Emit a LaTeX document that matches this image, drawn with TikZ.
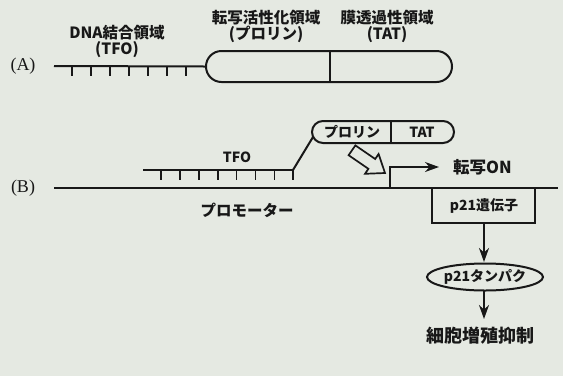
\documentclass[tikz,border=0pt]{standalone}
\usepackage{fontspec}
\setmainfont{Liberation Serif}
\newfontfamily\jp{Noto Sans CJK JP}
\usetikzlibrary{arrows.meta,shapes.geometric}
\definecolor{bg}{RGB}{229,233,226}
\definecolor{ink}{RGB}{24,24,24}
\begin{document}
\begin{tikzpicture}[x=1pt,y=-1pt,
  ln/.style={line width=2pt, draw=ink},
  tk/.style={line width=1.7pt, draw=ink},
  jl/.style={font=\jp\bfseries\fontsize{15.5}{16}\selectfont, text=ink, inner sep=0pt, align=center},
  jsm/.style={font=\jp\bfseries\fontsize{14}{15}\selectfont, text=ink, inner sep=0pt},
  jbig/.style={font=\jp\bfseries\fontsize{18}{19}\selectfont, text=ink, inner sep=0pt},
  serif/.style={font=\fontsize{18}{20}\selectfont, text=ink, inner sep=0pt},
  tip/.style={-{Stealth[length=14pt,width=10pt]}}
]
\fill[bg] (0,0) rectangle (563,376);
\useasboundingbox (0,0) rectangle (563,376);

% ---------- (A) ----------
\node[serif] (labA) at (23,66) {(A)};
\node[ln, draw, rounded corners=15.5pt, minimum width=246pt, minimum height=31pt, inner sep=0pt] (boxA) at (329,66.5) {};
\coordinate (divAt) at (330,51);
\coordinate (divAb) at (330,82);
\draw[ln] (divAt) -- (divAb);
\coordinate (a0) at (54,66);
\draw[ln] (a0) -- (boxA.west);
\foreach \x in {72,91,...,186} \draw[tk] (\x,66) -- (\x,76);
\node[jl] (dnalab) at (117,41.5) {DNA結合領域\\(TFO)};
\node[jl] (prolab) at (266,26) {転写活性化領域\\(プロリン)};
\node[jl] (tatlab) at (387,26) {膜透過性領域\\(TAT)};

% ---------- (B) ----------
\node[serif] (labB) at (23,188) {(B)};
\coordinate (b0) at (54,188);
\coordinate (b1) at (558,188);
\draw[ln] (b0) -- (b1);
% TFO strand
\coordinate (t0) at (143,170);
\coordinate (t1) at (293,170);
\draw[ln] (t0) -- (t1);
\foreach \i in {0,...,7} \draw[tk] (161+18.9*\i,170) -- (161+18.9*\i,180);
\node[jsm] (tfolab) at (237,157) {TFO};
% small protein box
\node[ln, draw, rounded corners=11pt, minimum width=142pt, minimum height=22pt, inner sep=0pt] (boxB) at (383,132) {};
\coordinate (divBt) at (391,121);
\coordinate (divBb) at (391,143);
\draw[ln] (divBt) -- (divBb);
\coordinate (bjoin) at (313,137);
\draw[ln] (t1) -- (bjoin);
\node[jsm] (prolinB) at (352,132) {プロリン};
\node[jsm] (tatB) at (422,132) {TAT};
% hollow arrow
\draw[line width=1.7pt, draw=ink, fill=bg, line join=miter]
  (348.6,155.2) -- (368.4,168.8) -- (365.0,173.8) -- (385,173)
  -- (378.6,154.0) -- (375.2,159.0) -- (355.4,145.4) -- cycle;
% transcription start
\coordinate (tss) at (390,188);
\coordinate (tsstop) at (390,167);
\coordinate (tssend) at (439,167);
\draw[ln, tip] (tss) -- (tsstop) -- (tssend);
\node[anchor=west, font=\jp\bfseries\fontsize{16.5}{18}\selectfont, text=ink, inner sep=0pt] (on) at (453,167) {転写ON};
\node[jl] (promo) at (247,210) {プロモーター};
% gene box
\node[ln, draw, minimum width=103pt, minimum height=35pt, inner sep=0pt] (gene) at (483.5,205.5) {};
\node[jsm] (genelab) at (484,205.5) {p21遺伝子};
% protein
\node[ln, draw, ellipse, minimum width=116pt, minimum height=27pt, inner sep=0pt] (prot) at (485,277) {};
\node[jsm] (protlab) at (485,277) {p21タンパク};
\coordinate (g0) at (484,223);
\coordinate (g1) at (484,262);
\draw[ln, tip] (g0) -- (g1);
\coordinate (p0) at (484,290.5);
\coordinate (p1) at (484,319);
\draw[ln, tip] (p0) -- (p1);
\node[jbig] (result) at (480,336) {細胞増殖抑制};
\end{tikzpicture}
\end{document}
